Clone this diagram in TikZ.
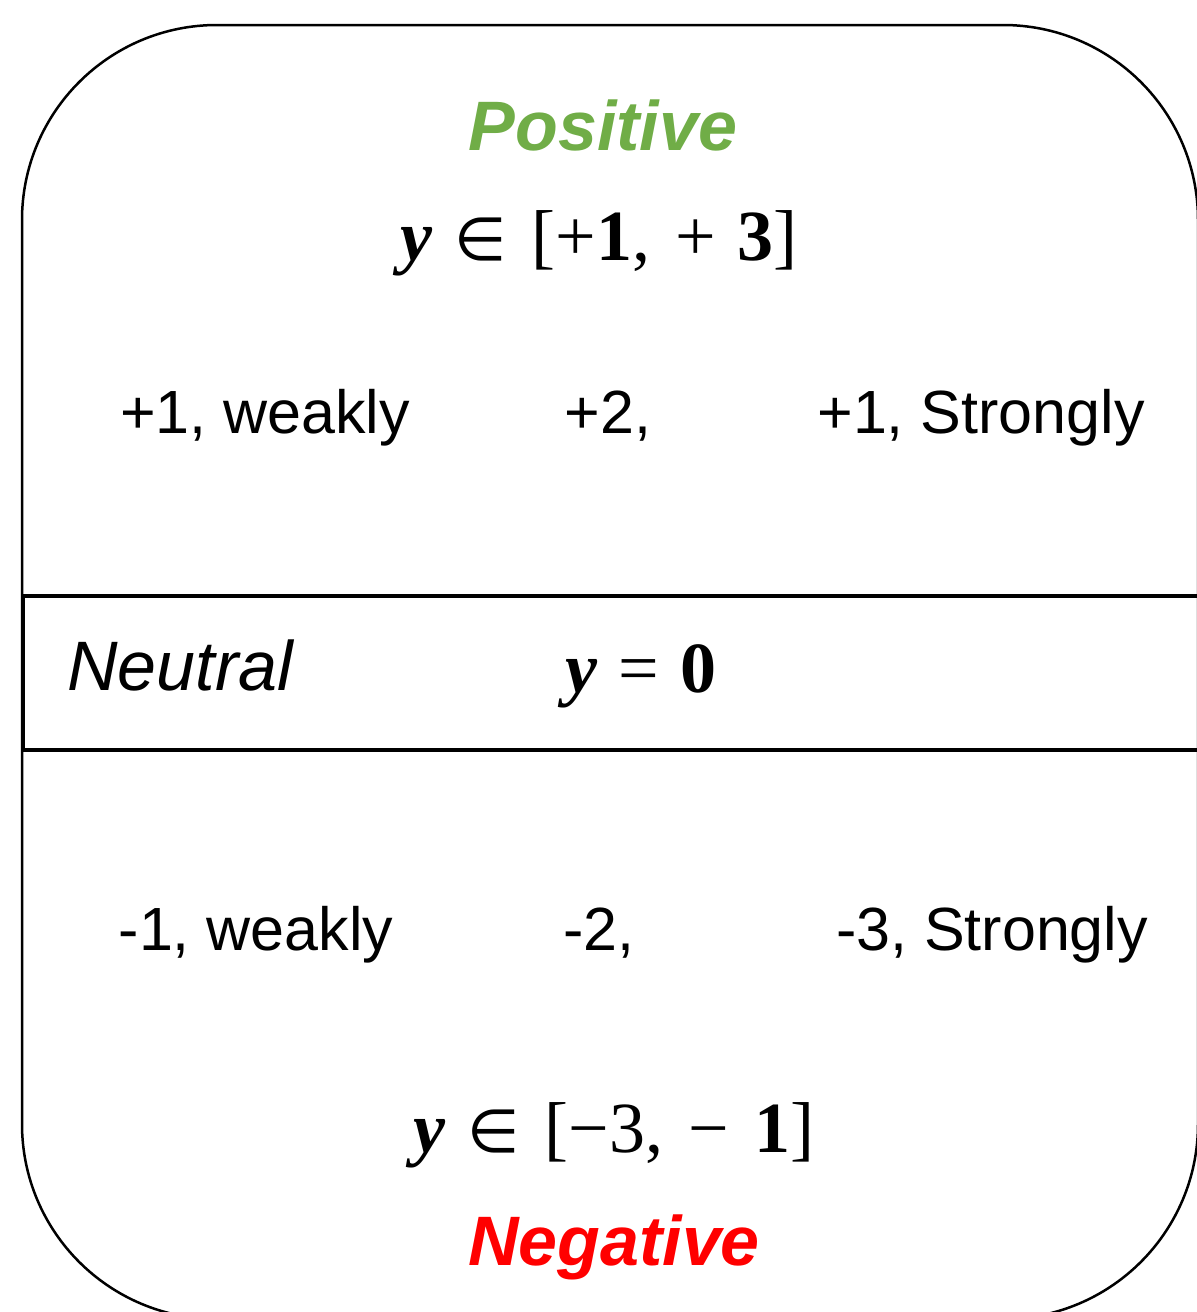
\documentclass[tikz,border=0pt]{standalone}
\usepackage{fontspec}
\setmainfont{Liberation Sans}
\newfontfamily\timesfont{Liberation Serif}
\newfontfamily\symbfont{DejaVu Sans}
\definecolor{posgreen}{RGB}{112,173,71}
\definecolor{negred}{RGB}{255,0,0}
\newcommand{\elem}{\hspace{0.3em}{\symbfont\fontsize{30}{36}\selectfont ∈}\hspace{0.35em}}
\newcommand{\mminus}{{\timesfont −}}
\tikzset{
  lbl/.style={anchor=base, inner sep=0pt, font=\fontsize{30.5}{36}\selectfont},
  title/.style={anchor=base, inner sep=0pt, font=\fontsize{35}{40}\selectfont\bfseries\itshape},
  mathlbl/.style={anchor=base, inner sep=0pt, font=\fontsize{36}{42}\selectfont\timesfont},
}
\begin{document}
\begin{tikzpicture}[x=0.5pt, y=-0.5pt, line join=round]
  \useasboundingbox (0,0) rectangle (1197,1312);
  % 1. outer frame and neutral band
  \draw[line width=1.25pt, rounded corners=97.5pt] (22,25) rectangle (1198,1319);
  \draw[line width=1.6pt] (23,596) rectangle (1205,750);

  % 2. positive part
  \node[title, text=posgreen] (pos) at (603,150) {Positive};
  \node[mathlbl] (posrange) at (599,260) {{\bfseries\itshape y}\elem[+\textbf{1},\hspace{0.35em}+\hspace{0.3em}\textbf{3}]};
  \node[lbl] (pweak) at (265,433) {+1, weakly};
  \node[lbl] (pmid) at (608,433) {+2,};
  \node[lbl] (pstrong) at (981,433) {+1, Strongly};

  % 3. neutral part
  \node[lbl, font=\fontsize{35}{40}\selectfont\itshape] (neu) at (180,690) {Neutral};
  \node[mathlbl] (neuval) at (641,692) {{\bfseries\itshape y}\hspace{0.3em}=\hspace{0.3em}\textbf{0}};

  % 4. negative part
  \node[lbl] (nweak) at (256,950) {-1, weakly};
  \node[lbl] (nmid) at (599,950) {-2,};
  \node[lbl] (nstrong) at (992,950) {-3, Strongly};
  \node[mathlbl] (negrange) at (614,1152) {{\bfseries\itshape y}\elem[\mminus3,\hspace{0.35em}\mminus\hspace{0.35em}\textbf{1}]};
  \node[title, text=negred] (neg) at (614,1265) {Negative};
\end{tikzpicture}
\end{document}
